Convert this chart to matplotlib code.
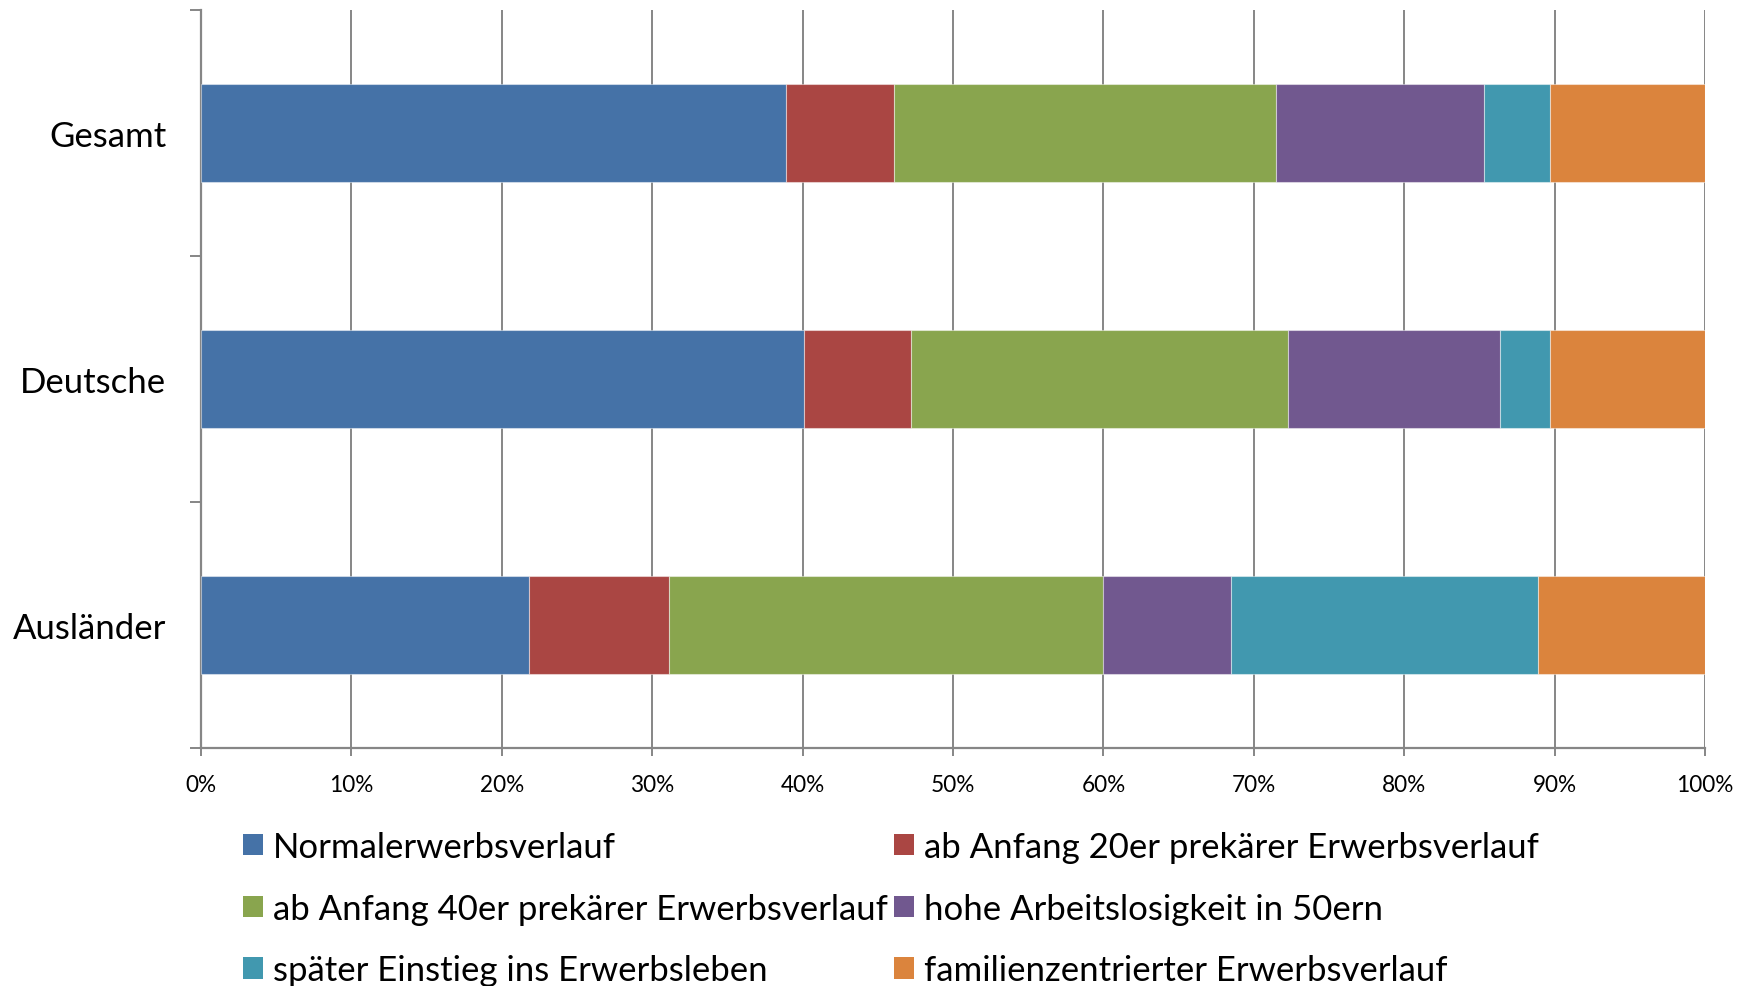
import matplotlib
matplotlib.use("Agg")
import matplotlib.pyplot as plt
from matplotlib.patches import Patch
from matplotlib.ticker import FixedLocator, FuncFormatter
import numpy as np

categories = ["Gesamt", "Deutsche", "Ausländer"]
series_names = [
    "Normalerwerbsverlauf",
    "ab Anfang 20er prekärer Erwerbsverlauf",
    "ab Anfang 40er prekärer Erwerbsverlauf",
    "hohe Arbeitslosigkeit in 50ern",
    "später Einstieg ins Erwerbsleben",
    "familienzentrierter Erwerbsverlauf",
]
normal = [38.9, 40.1, 21.8]
anfang20 = [7.2, 7.1, 9.3]
anfang40 = [25.4, 25.1, 28.9]
arbeitslos50 = [13.8, 14.1, 8.5]
spaet = [4.4, 3.3, 20.4]
familie = [10.3, 10.3, 11.1]
series_values = [normal, anfang20, anfang40, arbeitslos50, spaet, familie]
colors = ["#4572A7", "#AA4643", "#89A54E", "#71588F", "#4198AF", "#DB843D"]
xtick_values = [0, 10, 20, 30, 40, 50, 60, 70, 80, 90, 100]

plt.rcParams['font.family'] = ['Lato', 'DejaVu Sans']

fig = plt.figure(figsize=(17.46, 9.87), dpi=100)
ax = fig.add_axes([201/1746, 1-749/987, (1705-201)/1746, (749-11)/987])

vals = np.array(series_values, dtype=float)
totals = vals.sum(axis=0)
shares = vals / totals
y = np.arange(len(categories))
left = np.zeros(len(categories))
handles = []
for name, share, c in zip(series_names, shares, colors):
    ax.barh(y, share, left=left, height=0.4, color=c,
            edgecolor=(1, 1, 1, 0.45), linewidth=0.8, zorder=3)
    left += share
    handles.append(Patch(facecolor=c, edgecolor='none', label=name))

ax.set_xlim(0, 1)
ax.set_ylim(2.5, -0.5)

gray = "#868686"
ax.xaxis.set_major_locator(FixedLocator([v/100 for v in xtick_values]))
ax.xaxis.set_major_formatter(FuncFormatter(lambda v, p: f"{int(round(v*100))}%"))
ax.grid(axis='x', color=gray, linewidth=1.4, zorder=0)
ax.set_axisbelow(True)

ax.yaxis.set_major_locator(FixedLocator([-0.5, 0.5, 1.5, 2.5]))
ax.yaxis.set_major_formatter(FuncFormatter(lambda v, p: ""))
ax.yaxis.set_minor_locator(FixedLocator(list(y)))
ax.set_yticklabels(categories, minor=True)
ax.tick_params(axis='y', which='major', length=8, width=1.4, color=gray, direction='out')
ax.tick_params(axis='y', which='minor', length=0, labelsize=25, pad=25)
ax.tick_params(axis='x', which='major', length=6, width=1.4, color=gray,
               direction='out', labelsize=16.3, pad=13)

for s in ['top', 'right']:
    ax.spines[s].set_visible(False)
for s in ['left', 'bottom']:
    ax.spines[s].set_color(gray)
    ax.spines[s].set_linewidth(1.6)

order = [0, 2, 4, 1, 3, 5]
leg = fig.legend([handles[i] for i in order], [series_names[i] for i in order],
                 ncol=2, loc='upper left', bbox_to_anchor=(243/1746, 1-832/987),
                 frameon=False, fontsize=25, handlelength=0.576, handleheight=0.576,
                 handletextpad=0.29, columnspacing=0.16, labelspacing=0.85,
                 borderaxespad=0, borderpad=0)

fig.savefig("out.png", dpi=100)
